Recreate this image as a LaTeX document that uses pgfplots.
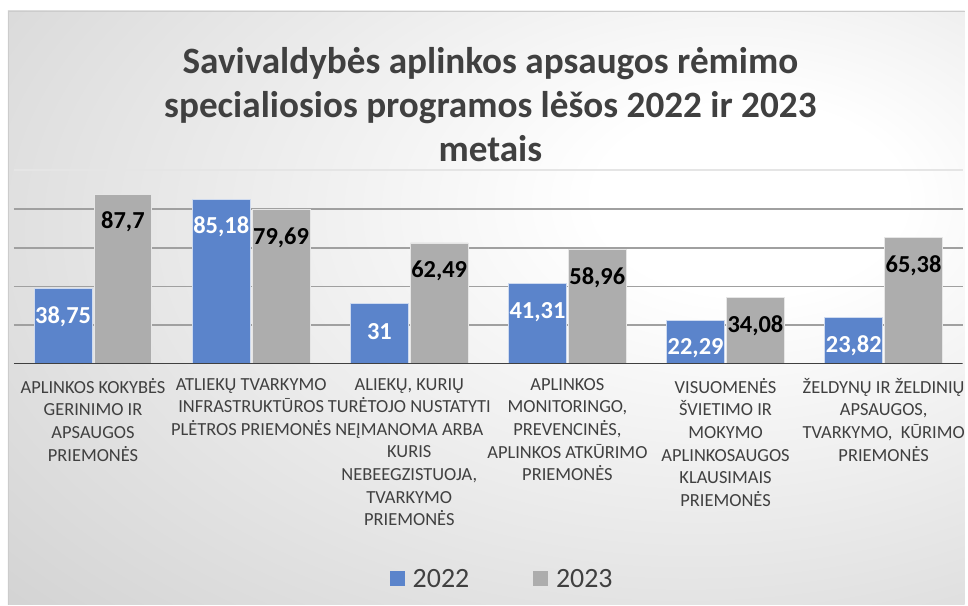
\documentclass[border=0pt]{standalone}
\usepackage{fontspec}
\setmainfont{Carlito}
\usepackage{pgfplots}
\pgfplotsset{compat=1.18}
\definecolor{barblue}{RGB}{91,132,203}
\definecolor{bargray}{RGB}{173,173,173}
\definecolor{txt}{RGB}{64,64,64}
\definecolor{gridc}{RGB}{160,160,160}
\definecolor{bgedge}{RGB}{180,180,180}
\pgfdeclareradialshading{bgshade}{\pgfpoint{15bp}{10bp}}{color(0bp)=(white); color(8bp)=(white); color(72bp)=(bgedge); color(100bp)=(bgedge)}
\begin{document}
\begin{tikzpicture}
\fill[white] (0,0) rectangle (968bp,607bp);
\shade[shading=bgshade] (8bp,0) rectangle (968bp,596bp);
\draw[white!80!black, line width=0.8bp] (8bp,0) -- (8bp,596bp) -- (968bp,596bp);
\node[align=center, text=txt, font=\fontsize{37.3bp}{44bp}\selectfont\bfseries] at (492bp,502bp)
  {Savivaldybės aplinkos apsaugos rėmimo\\specialiosios programos lėšos 2022 ir 2023\\metais};
\begin{axis}[
  at={(14bp,242bp)}, anchor=south west,
  scale only axis, width=952bp, height=194bp,
  xmin=-0.5, xmax=5.5, ymin=0, ymax=100,
  ybar=2bp, bar width=58bp,
  axis line style={draw=none},
  major tick length=0pt,
  ytick={20,40,60,80}, yticklabels={},
  ymajorgrids, grid style={gridc, line width=1.6bp},
  extra y ticks={100}, extra y tick labels={}, extra y tick style={grid style={white!80!gray, line width=2bp}},
  xtick={0,1,2,3,4,5},
  xticklabels={
    {APLINKOS KOKYBĖS\\GERINIMO IR\\APSAUGOS\\PRIEMONĖS},
    {ATLIEKŲ TVARKYMO\\INFRASTRUKTŪROS\\PLĖTROS PRIEMONĖS},
    {ALIEKŲ, KURIŲ\\TURĖTOJO NUSTATYTI\\NEĮMANOMA ARBA\\KURIS\\NEBEEGZISTUOJA,\\TVARKYMO\\PRIEMONĖS},
    {APLINKOS\\MONITORINGO,\\PREVENCINĖS,\\APLINKOS ATKŪRIMO\\PRIEMONĖS},
    {VISUOMENĖS\\ŠVIETIMO IR\\MOKYMO\\APLINKOSAUGOS\\KLAUSIMAIS\\PRIEMONĖS},
    {ŽELDYNŲ IR ŽELDINIŲ\\APSAUGOS,\\TVARKYMO,\ \ KŪRIMO\\PRIEMONĖS}},
  xticklabel style={align=center, text=txt, font=\fontsize{18.5bp}{22.7bp}\selectfont, yshift=-11bp},
  nodes near coords,
  /pgf/number format/.cd, use comma, 1000 sep={}, assume math mode=true,
  /pgfplots/.cd,
  every node near coord/.append style={anchor=center, yshift=-28bp, font=\fontsize{24.5bp}{27bp}\selectfont\bfseries},
  legend columns=2,
  legend style={at={(0.5146,-1.113)}, anchor=center, draw=none, fill=none,
    font=\fontsize{28bp}{30bp}\selectfont, text=txt,
    /tikz/every even column/.append style={column sep=62bp}},
  legend image code/.code={\fill[#1, draw=none] (0bp,-7.5bp) rectangle (15bp,7.5bp); \path[draw=none, fill=none] (0bp,0bp) -- (21bp,0bp);},
]
\addplot[fill=barblue, draw=white!70!barblue, line width=0.8bp,
  every node near coord/.append style={text=white}]
  coordinates {(0,38.75) (1,85.18) (2,31) (3,41.31) (4,22.29) (5,23.82)};
\addplot[fill=bargray, draw=white!70!bargray, line width=0.8bp,
  every node near coord/.append style={text=black}]
  coordinates {(0,87.7) (1,79.69) (2,62.49) (3,58.96) (4,34.08) (5,65.38)};
\legend{2022,2023}
\draw[txt, line width=2.5bp] (axis cs:-0.5,0) -- (axis cs:5.5,0);
\end{axis}
\useasboundingbox (0,0) rectangle (968bp,607bp);
\end{tikzpicture}
\end{document}
